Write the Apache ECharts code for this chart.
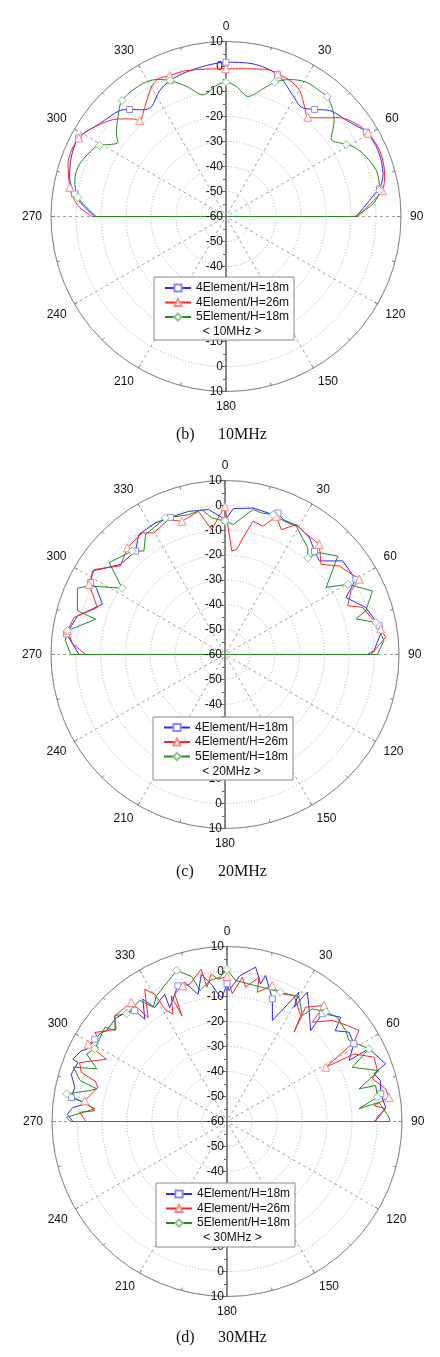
<!DOCTYPE html>
<html lang="en">
<head>
<meta charset="UTF-8">
<title>Elevation patterns</title>
<script src="https://cdn.jsdelivr.net/npm/echarts@6.0.0/dist/echarts.min.js"></script>
<style>
  html, body { margin: 0; padding: 0; background: #fff; }
  #chart { width: 440px; height: 1357px; }
</style>
</head>
<body>
<div id="chart"></div>
<script>
// legend names, captions
var names = ['4Element/H=18m', '4Element/H=26m', '5Element/H=18m'];
var freqText = ['< 10MHz >', '< 20MHz >', '< 30MHz >'];
var capTag = ['(b)', '(c)', '(d)'];
var capFreq = ['10MHz', '20MHz', '30MHz'];

// ---- 10 MHz (angle in deg, gain in dB) ----
var ang10a = [-90, -85.6, -81.5, -75.9, -69, -61.9, -53.7, -45.1, -42, -37.9, -34.3, -27.8, -22.3, -15.4, -7.4, 0, 10, 19.9, 29, 34.6, 39.6, 44.4, 52.7, 59, 66.5, 74.8, 79.8, 81.3, 83.6, 90];
var db10a  = [-7.5, -2.6, 1.2, 4.5, 6.3, 6.8, 2.7, 0.0, -2.4, -5.9, -7.0, -3.1, -1.2, -0.1, 0.9, 1.7, 2.0, 0.4, -4.7, -6.9, -4.4, -0.7, 2.2, 5.5, 6.3, 5.1, 2.4, 0.2, -2.2, -7.9];
var ang10b = [-90, -86.4, -82.2, -79.4, -71.6, -61.9, -53.9, -47.9, -43.6, -42, -36.6, -30, -26.3, -21.8, -15.2, 0, 15.3, 20, 25.1, 30.3, 35.7, 39.5, 43.5, 49, 54.6, 59.6, 66.8, 75, 80.6, 84.9, 90];
var db10b  = [-6.5, -1.3, 2.2, 3.6, 6.6, 6.8, 2.5, -1.8, -6.1, -8.4, -5.5, -0.3, 1.4, 0.7, 0.5, -0.9, 1.0, 0.7, 0.1, -1.6, -6.1, -8.5, -5.6, 0.2, 4.0, 5.9, 6.9, 5.7, 3.4, -2.0, -7.2];
var ang10c = [-90, -82.6, -76.6, -70.2, -62, -60.7, -55.5, -53, -47.4, -41.9, -33.4, -27, -22.3, -16.9, -10.7, -4.3, 0, 4.5, 10.4, 16.2, 19.9, 24.9, 30.9, 37.5, 40.2, 45.3, 48.4, 53.6, 59.1, 61.1, 65.4, 73, 80.4, 85.1, 90];
var db10c  = [-8.1, -0.3, 2.2, 2.2, -0.8, -2.0, -7.6, -5.1, -1.3, 2.3, 2.8, 1.5, -1.2, -5.6, -10.5, -7.5, -6.3, -7.8, -11.2, -6.8, -2.9, 0.4, 2.6, 2.7, 2.8, 0.2, -2.2, -7.7, -3.9, -2.0, 0.3, 2.9, 2.3, -1.0, -8.5];

// ---- 20 MHz ----
var ang20a = [-90, -82.6, -75.3, -67.7, -62.7, -61.8, -57.8, -49.2, -40.9, -35.7, -27.9, -21.7, -14.3, -6.5, -2.1, 0, 3.3, 10.9, 19, 20.5, 23.3, 29.6, 35.9, 40.9, 45.3, 51.5, 60.1, 64.8, 71.5, 79.4, 80.8, 88.5, 90];
var db20a  = [-1.3, 4.3, 1.3, -6.7, -1.8, 1.3, 3.0, -4.5, -5.0, -0.6, -0.1, -0.6, -0.6, -1.3, -4.4, -6.0, -1.2, 0.0, -0.5, 0.8, -0.9, -0.6, -2.0, -5.0, -6.5, 0.5, 0.7, -6.2, -0.3, 3.1, 4.2, 0.0, -2.7];
var ang20b = [-90, -86, -81.4, -76.2, -69.8, -62.7, -57, -49.7, -42.5, -34.3, -30.4, -22.7, -17.9, -10.5, -6.1, -2, 0, 3.7, 6.3, 9.4, 11.9, 16.5, 20.4, 24.3, 28.7, 32.3, 40.6, 46.8, 52.3, 60.7, 63.2, 68.3, 71.1, 80.7, 83.9, 90];
var db20b  = [-4.0, 1.5, 4.1, 2.5, -5.3, 1.5, 2.8, -4.9, -1.8, -0.8, -3.3, -1.2, -3.7, -1.4, -9.5, -3.7, -0.5, -18.3, -17.5, -11.1, -5.2, -6.2, -0.7, -4.9, -0.4, -1.3, -1.7, -7.0, -1.8, 1.9, -3.2, -6.9, -1.5, 3.5, 5.0, -1.3];
var ang20c = [-90, -85, -81.4, -74.7, -73.5, -65.8, -63.2, -57.2, -51.6, -41.9, -38.1, -33.5, -23.6, -14.6, -9.1, -5.5, 0, 3.6, 11, 14.4, 19, 24.1, 29.1, 37.8, 40.6, 42.9, 48.9, 56.5, 60.2, 66.7, 72.7, 74.8, 78, 85, 90];
var db20c  = [2.0, 4.5, 4.1, -6.1, 1.9, 5.1, 1.2, -10.8, -0.5, -4.1, -7.1, -2.1, -0.1, -1.9, -1.0, -4.8, -6.4, -7.6, -0.6, -1.2, -0.5, -1.3, -1.0, -5.7, -8.8, -4.1, 0.2, -11.2, -3.1, 4.6, -0.7, -5.4, 2.0, 4.2, 1.3];

// ---- 30 MHz ----
var ang30a = [-90, -87.4, -84.8, -82.7, -81.2, -77.4, -73.1, -68.4, -68, -64.1, -62.7, -58.1, -54.7, -53.1, -46.8, -44.1, -39.8, -38.8, -34.5, -32.4, -26.1, -26.7, -19.9, -16.9, -12.8, -9.9, -6.5, -4, -2.3, 0, 0.9, 5, 10.5, 13.7, 14.8, 20.3, 24.2, 29.1, 30.4, 31.8, 35, 42.6, 41.5, 44.8, 47.5, 50, 53.8, 58.5, 63.4, 62.9, 70, 72, 75, 79.8, 84.8, 88.4, 90];
var db30a  = [1.7, 3.9, 1.9, -3.5, 3.0, 2.4, 5.1, 4.1, 6.5, 4.8, 3.0, 2.3, 1.6, 0.4, 0.7, -0.2, -2.3, -7.5, -0.6, -6.0, -3.3, -9.0, -2.3, -1.9, -7.8, -0.2, -4.7, -8.9, -10.4, -4.9, -7.6, -1.5, 2.8, -3.3, 0.4, -7.7, -15.7, -0.8, -7.0, 0.9, -3.0, -10.6, -2.5, -0.2, 1.7, -3.5, 0.5, -0.5, -5.4, 3.8, 7.5, 1.8, 3.5, 2.5, 3.7, 0.8, -1.2];
var ang30b = [-90, -86.4, -85.4, -81.7, -75.2, -73, -71.4, -68.2, -62.7, -60.9, -56.9, -56.1, -50.2, -46.8, -38.8, -37.2, -31.9, -29.6, -28.8, -26.7, -23.9, -23.1, -22.3, -18, -15.2, -9.6, -8.5, -6.1, -3.6, 0, 2.4, 6.1, 7.9, 12.5, 13.2, 18.4, 22.8, 28, 34.8, 36.9, 34.5, 39.9, 40.7, 46.2, 51.4, 55.4, 58, 61.2, 62, 66.4, 71.3, 73.6, 78.4, 81.5, 83.8, 85.4, 88.3, 90];
var db30b  = [-3.6, -0.9, -6.9, -2.5, -6.6, -4.9, 1.5, 3.5, -5.7, 3.6, 1.6, 3.8, -2.3, 1.7, 1.1, -7.8, 2.3, -1.4, -9.2, -11.9, -5.0, -14.1, -4.9, -2.9, -3.1, 1.8, -5.7, -0.7, -2.9, -2.0, -8.9, -1.9, -5.7, -0.9, -6.9, -2.7, -4.6, -2.9, -8.4, -15.3, -4.5, 0.5, -7.6, -1.6, 1.6, 4.1, -0.1, -14.9, -2.4, 4.2, 3.5, 0.6, 4.8, 5.5, -0.9, 3.7, 0.2, -0.5];
var ang30c = [-90, -88.5, -84.5, -80.2, -77.3, -75.9, -74.4, -70.5, -68, -64.3, -61.2, -52.3, -50.9, -46.6, -43, -35.7, -32.8, -29.2, -18.4, -13.7, -11.6, -6.9, -2.8, 0, 3.5, 22.5, 30.1, 35.4, 37.1, 42, 46.6, 52.5, 56.4, 62.9, 66.6, 71.5, 76.1, 76.4, 80.8, 84.5, 82.8, 88.5, 90];
var db30c  = [2.7, 4.2, -7.0, 5.1, -3.8, -6.3, 1.0, 5.2, -3.8, 2.3, 0.3, 1.7, -2.3, 1.7, -1.1, -0.4, -5.6, -2.3, 3.7, -0.3, -6.5, -3.2, -2.2, 0.8, -3.5, -4.0, -2.5, -8.0, -3.5, -1.0, 0.7, -0.2, -1.4, 3.8, -5.4, 4.1, -5.6, 1.2, 0.9, -7.0, 1.3, 4.8, 5.2];

var angSets = [[ang10a, ang10b, ang10c], [ang20a, ang20b, ang20c], [ang30a, ang30b, ang30c]];
var dbSets  = [[db10a, db10b, db10c], [db20a, db20b, db20c], [db30a, db30b, db30c]];

// layout (pixels)
var plots = [
  { cx: 226, cy: 216.5, r: 175, box: [154, 277, 140, 63], legL: 164, legT: 281, freq: [232, 331.5], cap: 435, smooth: 0.3 },
  { cx: 225, cy: 654.5, r: 174, box: [153, 717, 140, 63], legL: 163, legT: 720.5, freq: [231.5, 772], cap: 872, smooth: false },
  { cx: 227, cy: 1121.5, r: 175, box: [156, 1183, 139, 64], legL: 165, legT: 1187, freq: [232.5, 1238], cap: 1338, smooth: false }
];
var lineCol = ['#2a2aff', '#ff2626', '#238c23'];
var markCol = ['#8a8aff', '#ff8a8a', '#8cc48c'];
var symbols = ['rect', 'triangle', 'diamond'];
var symSize = [6, 8, 8];
var FONT = 'Liberation Sans, Arial, sans-serif';

function toAng(a) { return a < 0 ? a + 360 : a; }

function markIdx(ang) {
  var set = {};
  for (var m = -80; m <= 80; m += 20) {
    var best = -1, bd = 99;
    for (var i = 0; i < ang.length; i++) {
      var d = Math.abs(ang[i] - m);
      if (d < bd) { bd = d; best = i; }
    }
    if (bd < 4) set[best] = true;
  }
  return set;
}

var polar = [], angleAxis = [], radiusAxis = [], series = [], legend = [], graphic = [];

plots.forEach(function (p, k) {
  polar.push({ center: [p.cx, p.cy], radius: p.r });
  polar.push({ center: [p.cx, p.cy], radius: p.r });

  angleAxis.push({
    polarIndex: 2 * k, type: 'value', min: 0, max: 360, interval: 30,
    startAngle: 90, clockwise: true, z: 1,
    axisLine: { lineStyle: { color: '#7d7d7d', width: 1 } },
    axisTick: { show: true, inside: true, length: 4, lineStyle: { color: '#7d7d7d' } },
    minorTick: { show: true, splitNumber: 2, length: 3, lineStyle: { color: '#7d7d7d' } },
    axisLabel: { margin: 9, color: '#111', fontSize: 12, fontFamily: FONT,
      formatter: function (v) { return v === 360 ? '' : String(v); } },
    splitLine: { show: true, lineStyle: { color: '#8c8c8c', type: [3, 3], width: 0.8 } }
  });
  angleAxis.push({
    polarIndex: 2 * k + 1, type: 'value', min: 0, max: 360, startAngle: 270, show: false
  });

  var rBase = {
    type: 'value', min: -60, max: 10, interval: 10, z: 3,
    axisLine: { lineStyle: { color: '#6a6a6a', width: 1.5 } },
    axisTick: { show: true, length: 5, lineStyle: { color: '#6a6a6a' } },
    minorTick: { show: true, splitNumber: 2, length: 3, lineStyle: { color: '#6a6a6a' } },
    axisLabel: { color: '#111', fontSize: 12, fontFamily: FONT, margin: 3 }
  };
  radiusAxis.push(Object.assign({}, rBase, {
    polarIndex: 2 * k,
    splitLine: { show: true, lineStyle: { color: '#a2a2a2', type: [1, 2], width: 0.9 } }
  }));
  // lower half: same scale running downwards, ticks and labels pushed to the left
  radiusAxis.push(Object.assign({}, rBase, {
    polarIndex: 2 * k + 1,
    splitLine: { show: false },
    axisTick: Object.assign({}, rBase.axisTick, { length: -5 }),
    minorTick: Object.assign({}, rBase.minorTick, { length: -3 }),
    axisLabel: Object.assign({}, rBase.axisLabel, { showMinLabel: false, margin: -3, align: 'right' })
  }));

  // straight base lines (end -> centre -> end)
  for (var s = 0; s < 3; s++) {
    var ang = angSets[k][s], db = dbSets[k][s];
    series.push({
      type: 'line', coordinateSystem: 'polar', polarIndex: 2 * k,
      name: 'base' + k + s, symbol: 'none', silent: true, z: 2,
      lineStyle: { color: lineCol[s], width: 1 },
      data: [[db[0], toAng(ang[0])], [-60, 270], [-60, 90], [db[db.length - 1], toAng(ang[ang.length - 1])]]
    });
  }
  // pattern curves
  for (var s2 = 0; s2 < 3; s2++) {
    (function (s) {
      var ang = angSets[k][s], db = dbSets[k][s];
      var marks = markIdx(ang);
      series.push({
        type: 'line', coordinateSystem: 'polar', polarIndex: 2 * k,
        name: names[s], smooth: p.smooth, z: 3,
        symbol: symbols[s], symbolSize: symSize[s], showSymbol: true,
        itemStyle: { color: '#fff', borderColor: markCol[s], borderWidth: 1 },
        lineStyle: { color: lineCol[s], width: 1 },
        data: ang.map(function (a, i) {
          return { value: [db[i], toAng(a)], symbol: marks[i] ? symbols[s] : 'none' };
        })
      });
    })(s2);
  }

  legend.push({
    data: names, orient: 'vertical', left: p.legL, top: p.legT, padding: 0,
    itemWidth: 26, itemHeight: 9, itemGap: 0.5, selectedMode: false, z: 60,
    textStyle: { fontSize: 12, color: '#111', fontFamily: FONT, lineHeight: 14 }
  });

  graphic.push({
    type: 'rect', z: 50,
    shape: { x: p.box[0], y: p.box[1], width: p.box[2], height: p.box[3] },
    style: { fill: '#fff', stroke: '#8a8a8a', lineWidth: 1 }
  });
  graphic.push({
    type: 'text', z: 60, x: p.freq[0], y: p.freq[1],
    style: { text: freqText[k], fontSize: 12, fontFamily: FONT, fill: '#111', align: 'center', verticalAlign: 'middle' }
  });
  graphic.push({
    type: 'text', z: 60, x: 176, y: p.cap,
    style: { text: capTag[k], fontSize: 16, fontFamily: 'Liberation Serif, Times New Roman, serif', fill: '#111', align: 'left', verticalAlign: 'middle' }
  });
  graphic.push({
    type: 'text', z: 60, x: 218, y: p.cap,
    style: { text: capFreq[k], fontSize: 16, fontFamily: 'Liberation Serif, Times New Roman, serif', fill: '#111', align: 'left', verticalAlign: 'middle' }
  });
});

var myChart = echarts.init(document.getElementById('chart'));
myChart.setOption({
  animation: false,
  backgroundColor: '#fff',
  polar: polar,
  angleAxis: angleAxis,
  radiusAxis: radiusAxis,
  legend: legend,
  series: series,
  graphic: graphic
});
</script>
</body>
</html>
